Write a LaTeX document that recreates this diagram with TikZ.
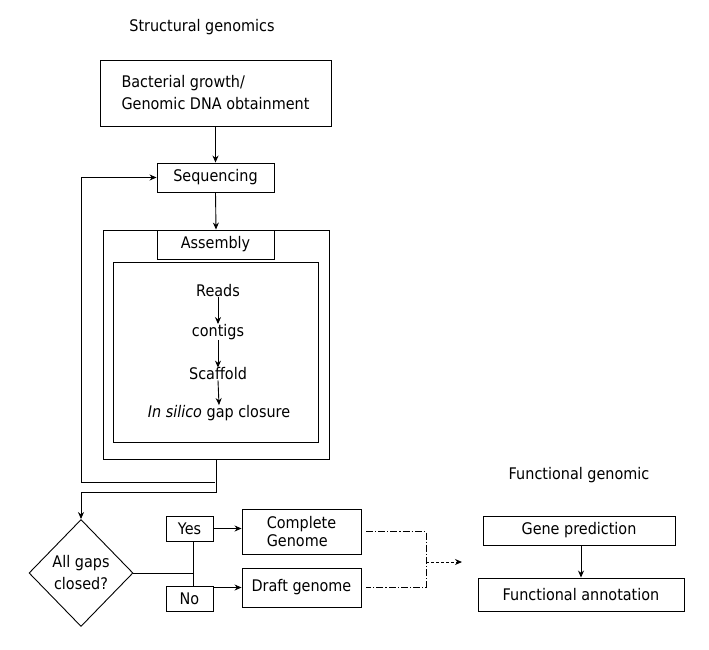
\documentclass[tikz,border=0pt]{standalone}
\usepackage{fontspec}
\setmainfont{DejaVu Sans}[FakeStretch=0.9]
\usetikzlibrary{arrows.meta,shapes.geometric}
\tikzset{
  box/.style={draw, line width=0.9pt, inner sep=0pt, font=\fontsize{16}{22}\selectfont},
  lbl/.style={inner sep=0pt, font=\fontsize{16}{22}\selectfont},
  ln/.style={line width=0.9pt},
  arr/.style={line width=0.9pt, -{Stealth[length=7pt,width=6pt]}},
  dashdot/.style={line width=0.9pt, dash pattern=on 7pt off 2pt on 1.2pt off 2pt},
  dasharr/.style={line width=0.9pt, dash pattern=on 3pt off 2pt, -{Stealth[length=7pt,width=6pt]}}
}
\begin{document}
\begin{tikzpicture}[x=1pt,y=-1pt]
\useasboundingbox (0,0) rectangle (709,650);
% titles
\node[lbl] (t1) at (202,27) {Structural genomics};
\node[lbl] (t2) at (579,475) {Functional genomic};
% top boxes
\node[box, minimum width=231pt, minimum height=66pt, align=left] (grow) at (215.5,93) {Bacterial growth/\\Genomic DNA obtainment};
\node[box, minimum width=117pt, minimum height=29pt] (seq) at (215.5,177.5) {Sequencing};
% assembly
\node[box, minimum width=226pt, minimum height=229pt] (outer) at (216,344.5) {};
\node[box, minimum width=117pt, minimum height=29pt] (asm) at (215.5,244.5) {Assembly};
\node[box, minimum width=205pt, minimum height=180pt] (inner) at (215.5,352) {};
\node[lbl] (reads) at (218,291) {Reads};
\node[lbl] (contigs) at (218,332) {contigs};
\node[lbl] (scaf) at (218,374) {Scaffold};
\node[lbl] (gap) at (219,413) {\textit{In silico} gap closure};
\draw[arr] (reads.south) -- (contigs.north);
\draw[arr] (contigs.south) -- (scaf.north);
\draw[arr] (scaf.south) -- (gap.north);
% connectors top
\draw[arr] (grow.south) -- (seq.north);
\draw[arr] (seq.south) -- (outer.north);
\coordinate (fb) at (215,482);
\draw[arr] (fb) -- (81,482) |- (seq.west);
% decision
\node[box, diamond, aspect=1, minimum width=104pt, minimum height=107pt, align=center, font=\fontsize{16}{22}\selectfont] (gaps) at (81,573) {All gaps\\closed?};
\draw[arr] (outer.south) -- ++(0,33) -| (gaps.north);
\node[box, minimum width=47pt, minimum height=25pt] (yes) at (189.5,528.5) {Yes};
\node[box, minimum width=47pt, minimum height=25pt] (no) at (189.5,598.5) {No};
\coordinate (split) at (193,573);
\draw[ln] (gaps.east) -- (split);
\draw[ln] (yes.south -| split) -- (no.north -| split);
\node[box, minimum width=119pt, minimum height=45pt, align=left, font=\fontsize{16}{18}\selectfont] (complete) at (301.5,531.5) {Complete\\Genome};
\node[box, minimum width=119pt, minimum height=39pt] (draft) at (301.5,587.5) {Draft genome};
\draw[arr] (yes.east |- 0,528.5) -- (complete.west |- 0,528.5);
\draw[arr] (no.east |- draft.west) -- (draft.west);
% merge
\coordinate (c1) at (366,531.5);
\coordinate (c2) at (366,587.5);
\coordinate (merge) at (426,562);
\coordinate (tgt) at (462,562);
\draw[dashdot] (c1) -- (426,531.5) -- (426,587.5) -- (c2);
\draw[dasharr] (merge) -- (tgt);
% functional
\node[box, minimum width=192pt, minimum height=29pt] (gene) at (579,530.5) {Gene prediction};
\node[box, minimum width=206pt, minimum height=33pt] (func) at (581,594.5) {Functional annotation};
\draw[arr] (gene.south -| func.north) -- (func.north);
\end{tikzpicture}
\end{document}
